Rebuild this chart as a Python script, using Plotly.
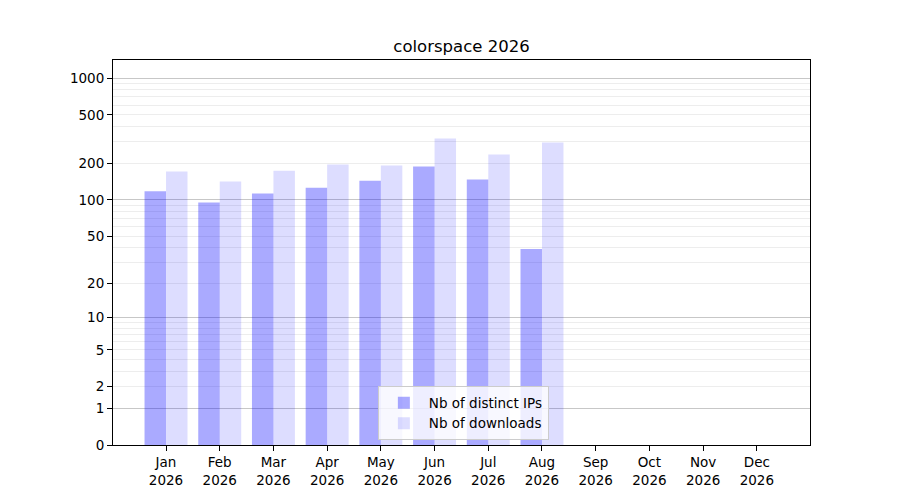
import math
import plotly.graph_objects as go

months = ["Jan", "Feb", "Mar", "Apr", "May", "Jun", "Jul", "Aug", "Sep", "Oct", "Nov", "Dec"]
year = "2026"
distinct_ips = [118, 95, 113, 126, 144, 188, 147, 39, 0, 0, 0, 0]
downloads = [171, 142, 174, 196, 192, 320, 236, 296, 0, 0, 0, 0]
major_ticks = [0, 1, 2, 5, 10, 20, 50, 100, 200, 500, 1000]
grid_major = [1, 10, 100, 1000]
grid_minor = [2, 3, 4, 5, 6, 7, 8, 9, 20, 30, 40, 50, 60, 70, 80, 90,
              200, 300, 400, 500, 600, 700, 800, 900]


def tr(v):
    return math.log10(1 + v)


x_idx = list(range(len(months)))
xlabels = [f"{m}<br>{year}" for m in months]

fig = go.Figure()
fig.add_trace(go.Bar(x=x_idx, y=[tr(v) for v in distinct_ips], name="Nb of distinct IPs",
                     marker=dict(color="rgba(0,0,255,0.333)", line=dict(width=0))))
fig.add_trace(go.Bar(x=x_idx, y=[tr(v) for v in downloads], name="Nb of downloads",
                     marker=dict(color="rgba(0,0,255,0.135)", line=dict(width=0))))

fig.update_layout(
    width=900, height=500,
    paper_bgcolor="white", plot_bgcolor="white",
    margin=dict(l=105, r=98, t=52, b=63),
    font=dict(family="DejaVu Sans", size=13.5, color="black"),
    title=dict(text="colorspace 2026", x=(105 + 802) / 2 / 900, xanchor="center",
               yref="container", y=1 - 38 / 500, yanchor="middle", font=dict(size=16.5)),
    barmode="group", bargap=0.2, bargroupgap=0,
    showlegend=True,
    legend=dict(x=0.38, y=0.012, xanchor="left", yanchor="bottom",
                bgcolor="rgba(255,255,255,0.8)", bordercolor="rgb(204,204,204)", borderwidth=1,
                font=dict(size=13.5), traceorder="normal", itemwidth=40),
    xaxis=dict(range=[-0.987, 11.99], tickmode="array", tickvals=x_idx, ticktext=xlabels,
               showgrid=False, zeroline=False, showline=True, linecolor="black", linewidth=1,
               mirror=True, ticks="outside", ticklen=5, tickcolor="black"),
    yaxis=dict(range=[0, 3.148], tickmode="array", tickvals=[tr(v) for v in major_ticks],
               ticktext=[str(v) for v in major_ticks],
               showgrid=False, zeroline=False, showline=True, linecolor="black", linewidth=1,
               mirror=True, ticks="outside", ticklen=5, tickcolor="black",
               minor=dict(tickmode="array", tickvals=[tr(v) for v in grid_minor],
                          showgrid=True, gridcolor="rgba(0,0,0,0.07)", gridwidth=1, ticks="")),
    yaxis2=dict(overlaying="y", range=[0, 3.148], tickmode="array",
                tickvals=[tr(v) for v in grid_major], showticklabels=False,
                showgrid=True, gridcolor="rgba(0,0,0,0.22)", gridwidth=1,
                zeroline=False, showline=False, ticks=""),
)
fig.add_trace(go.Scatter(x=[0], y=[0], yaxis="y2", mode="markers",
                         marker=dict(opacity=0), showlegend=False, hoverinfo="skip"))

fig.write_html("out.html")
